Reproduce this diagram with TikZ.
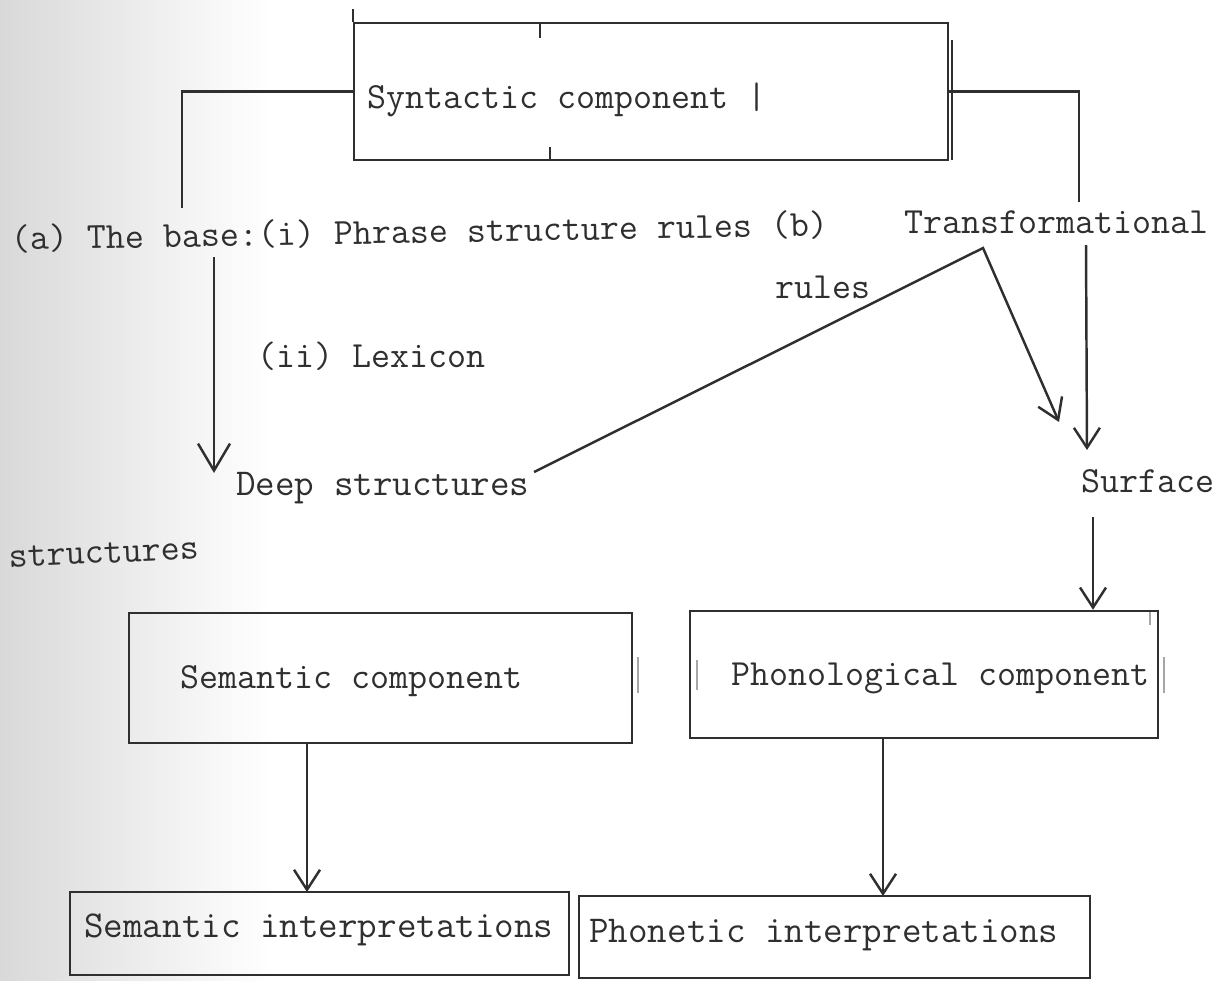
\documentclass[tikz,border=0pt]{standalone}
\usetikzlibrary{arrows.meta,calc}
\definecolor{ink}{HTML}{2F2F2F}
\begin{document}
\begin{tikzpicture}[x=0.02cm,y=-0.02cm,
  every node/.style={font=\ttfamily\fontsize{21}{25}\selectfont, text=ink},
  ln/.style={draw=ink, line width=1.4pt},
  box/.style={draw=ink, line width=1.4pt, rectangle, inner sep=0pt},
  txt/.style={anchor=west, inner sep=0pt, text height=0.6em, text depth=0pt, yshift=-0.1cm},
  wide/.style={font=\ttfamily\fontsize{21.6}{25}\selectfont},
  arr/.style={ln, -{Straight Barb[length=0.4cm,width=0.52cm]}},
  bigarr/.style={ln, -{Straight Barb[length=0.54cm,width=0.64cm]}},
  faint/.style={draw=black!35, line width=1pt}
]
\shade[left color=black!15, right color=white] (0,0) rectangle (270,980);
\useasboundingbox (0,0) rectangle (1223,980);

% boxes
\node[box, minimum width=11.88cm, minimum height=2.74cm] (syn) at (651,91.5) {};
\node[box, minimum width=10.06cm, minimum height=2.6cm] (sem) at (380.5,678) {};
\node[box, minimum width=9.36cm, minimum height=2.54cm] (pho) at (924,674.5) {};
\node[box, minimum width=9.98cm, minimum height=1.66cm] (semi) at (319.5,933.5) {};
\node[box, minimum width=10.22cm, minimum height=1.64cm] (phi) at (834.5,937) {};

% texts
\node[txt] (syntxt) at (367,98) {Syntactic component |};
\node[txt, rotate=1] (base) at (11,240) {(a) The base:(i) Phrase structure rules (b)};
\node[txt] (trans) at (904,223) {Transformational};
\node[txt] (rules) at (775,288) {rules};
\node[txt] (lex) at (257,357) {(ii) Lexicon};
\node[txt, wide] (deep) at (236,485) {Deep structures};
\node[txt] (surf) at (1081,482) {Surface};
\node[txt, rotate=2.5] (str) at (9,557) {structures};
\node[txt] (semtxt) at (180,678) {Semantic component};
\node[txt] (photxt) at (731,675) {Phonological component};
\node[txt, wide] (semitxt) at (84,927) {Semantic interpretations};
\node[txt, wide] (phitxt) at (589,932) {Phonetic interpretations};

% syntactic box details
\draw[ln] (syn.north west) -- ++(0,-13);
\draw[ln] (540,23) -- (540,38);
\draw[ln] (550,147) -- (550,160);
\draw[ln] (952,40) -- (952,160);

% faint typed bars
\draw[faint] (638,657) -- (638,693);
\draw[faint] (697,660) -- (697,690);
\draw[faint] (1164,657) -- (1164,693);
\draw[faint] (1150,612) -- (1150,625);

% coordinates
\coordinate (lfoot) at (182,208);
\coordinate (rfoot) at (1079,202);
\coordinate (bstart) at (214,257);
\coordinate (bend) at (214,473);
\coordinate (dstart) at (534,472);
\coordinate (apex) at (983,248);
\coordinate (stip) at (1059,422);
\coordinate (tstart) at (1086,245);
\coordinate (ttip) at (1087,450);
\coordinate (sfstart) at (1093,517);

% connectors
\draw[ln] (syn.west) -| (lfoot);
\draw[ln] (syn.east) -| (rfoot);
\draw[bigarr] (bstart) -- (bend);
\draw[arr] (dstart) -- (apex) -- (stip);
\draw[arr] (tstart) -- (ttip);
\draw[arr] (sfstart) -- (sfstart |- pho.north);
\draw[arr] (307,743) -- (307,892);
\draw[arr] (883,738) -- (883,896);
\end{tikzpicture}
\end{document}
